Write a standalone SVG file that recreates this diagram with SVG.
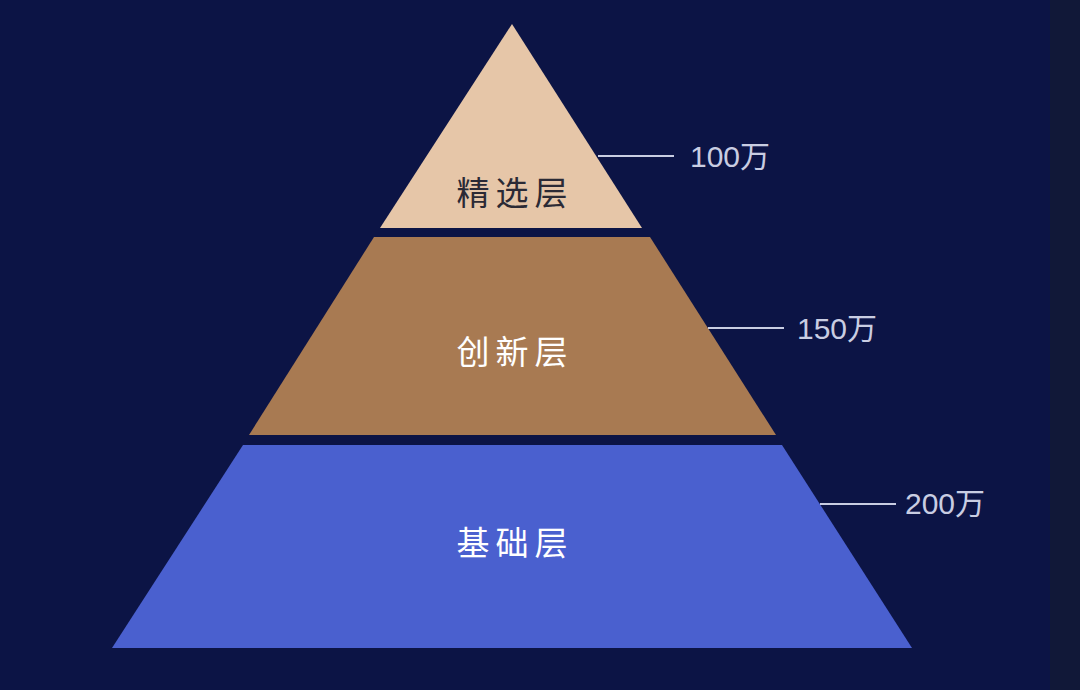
<svg xmlns="http://www.w3.org/2000/svg" width="1080" height="690" viewBox="0 0 1080 690">
<style>
.lbl{font-family:"Liberation Sans","Noto Sans CJK SC",sans-serif;font-size:33px;text-anchor:middle;letter-spacing:6px}
.val{font-family:"Liberation Sans","Noto Sans CJK SC",sans-serif;font-size:30px;fill:#c9cde2}
.ln{stroke:#c9cde2;stroke-width:2}
</style>
<rect width="1080" height="690" fill="#0c1445"/>
<rect x="1050" width="30" height="690" fill="#111838"/>
<g id="top"><polygon points="512,24 642,228 380,228" fill="#e6c6a8"/><text class="lbl" x="515" y="205" fill="#2b2a35">精选层</text></g>
<g id="middle"><polygon points="374,237 650,237 776,435 249,435" fill="#a87a52"/><text class="lbl" x="515" y="364" fill="#ffffff">创新层</text></g>
<g id="bottom"><polygon points="243,445 782,445 912,648 112,648" fill="#4a60cf"/><text class="lbl" x="515" y="555" fill="#ffffff">基础层</text></g>
<g id="connectors">
<line class="ln" x1="598" y1="156" x2="674" y2="156"/>
<line class="ln" x1="708" y1="328" x2="784" y2="328"/>
<line class="ln" x1="820" y1="504" x2="896" y2="504"/>
</g>
<g id="values">
<text class="val" x="690" y="167">100万</text>
<text class="val" x="797" y="339">150万</text>
<text class="val" x="905" y="514">200万</text>
</g>
</svg>
